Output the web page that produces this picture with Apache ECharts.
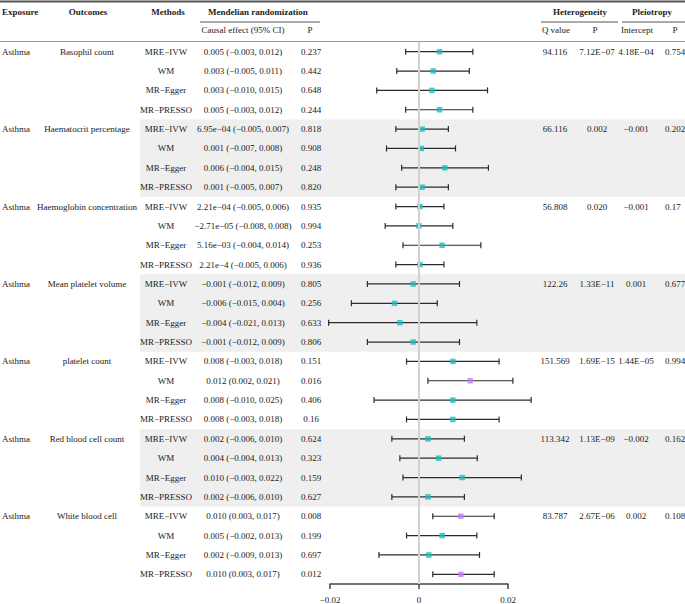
<!DOCTYPE html>
<html>
<head>
<meta charset="utf-8">
<script src="https://cdn.jsdelivr.net/npm/echarts@6/dist/echarts.min.js"></script>
<style>
  html, body {margin: 0; padding: 0; background: #fff;}
  #main {width: 685px; height: 604px;}
</style>
</head>
<body>
<div id="main"></div>
<script>
// 数据
var exposure = 'Asthma';
var outcomes = ['Basophil count', 'Haematocrit percentage', 'Haemoglobin concentration', 'Mean platelet volume',
    'platelet count', 'Red blood cell count', 'White blood cell'];
var methods = ['MRE\u2212IVW', 'WM', 'MR\u2212Egger', 'MR\u2212PRESSO'];

var effectText = [
    '0.005 (\u22120.003, 0.012)', '0.003 (\u22120.005, 0.011)', '0.003 (\u22120.010, 0.015)', '0.005 (\u22120.003, 0.012)',
    '6.95e\u221204 (\u22120.005, 0.007)', '0.001 (\u22120.007, 0.008)', '0.006 (\u22120.004, 0.015)', '0.001 (\u22120.005, 0.007)',
    '2.21e\u221204 (\u22120.005, 0.006)', '\u22122.71e\u221205 (\u22120.008, 0.008)', '5.16e\u221203 (\u22120.004, 0.014)', '2.21e\u22124 (\u22120.005, 0.006)',
    '\u22120.001 (\u22120.012, 0.009)', '\u22120.006 (\u22120.015, 0.004)', '\u22120.004 (\u22120.021, 0.013)', '\u22120.001 (\u22120.012, 0.009)',
    '0.008 (\u22120.003, 0.018)', '0.012 (0.002, 0.021)', '0.008 (\u22120.010, 0.025)', '0.008 (\u22120.003, 0.018)',
    '0.002 (\u22120.006, 0.010)', '0.004 (\u22120.004, 0.013)', '0.010 (\u22120.003, 0.022)', '0.002 (\u22120.006, 0.010)',
    '0.010 (0.003, 0.017)', '0.005 (\u22120.002, 0.013)', '0.002 (\u22120.009, 0.013)', '0.010 (0.003, 0.017)'
];
var pText = [
    '0.237', '0.442', '0.648', '0.244',
    '0.818', '0.908', '0.248', '0.820',
    '0.935', '0.994', '0.253', '0.936',
    '0.805', '0.256', '0.633', '0.806',
    '0.151', '0.016', '0.406', '0.16',
    '0.624', '0.323', '0.159', '0.627',
    '0.008', '0.199', '0.697', '0.012'
];
// 森林图的点估计和置信区间
var beta = [
    0.0046, 0.0032, 0.0029, 0.0046,
    0.0007, 0.0005, 0.0058, 0.0007,
    0.0002, -0.00003, 0.0052, 0.0002,
    -0.0013, -0.0055, -0.0043, -0.0013,
    0.0076, 0.0115, 0.0076, 0.0076,
    0.0020, 0.0044, 0.0097, 0.0020,
    0.0094, 0.0052, 0.0022, 0.0094
];
var lower = [
    -0.0030, -0.0050, -0.0095, -0.0030,
    -0.0052, -0.0073, -0.0039, -0.0052,
    -0.0052, -0.0076, -0.0036, -0.0052,
    -0.0116, -0.0152, -0.0203, -0.0116,
    -0.0028, 0.0020, -0.0101, -0.0028,
    -0.0061, -0.0043, -0.0036, -0.0061,
    0.0031, -0.0028, -0.0090, 0.0031
];
var upper = [
    0.0121, 0.0113, 0.0154, 0.0121,
    0.0066, 0.0082, 0.0156, 0.0066,
    0.0056, 0.0076, 0.0139, 0.0056,
    0.0091, 0.0041, 0.0130, 0.0091,
    0.0180, 0.0211, 0.0252, 0.0180,
    0.0102, 0.0131, 0.0230, 0.0102,
    0.0169, 0.0130, 0.0136, 0.0169
];
var hetQ = ['94.116', '66.116', '56.808', '122.26', '151.569', '113.342', '83.787'];
var hetP = ['7.12E\u221207', '0.002', '0.020', '1.33E\u221211', '1.69E\u221215', '1.13E\u221209', '2.67E\u221206'];
var intercept = ['4.18E\u221204', '\u22120.001', '\u22120.001', '0.001', '1.44E\u221205', '\u22120.002', '0.002'];
var pleP = ['0.754', '0.202', '0.17', '0.677', '0.994', '0.162', '0.108'];
var xTicks = [-0.02, 0, 0.02];
var shadedGroups = [1, 3, 5];

var FONT = '9px "Liberation Serif", "Times New Roman", serif';
var BOLD = 'bold 9px "Liberation Serif", "Times New Roman", serif';
var TEAL = '#1fbcbf';
var PURPLE = '#c47cf2';

var rowIdx = [];
for (var i = 0; i < beta.length; i++) rowIdx.push(String(i));

function txt(text, x, y, align, font) {
    return {
        type: 'text',
        style: {
            text: text, x: x, y: y, font: font || FONT, fill: '#222',
            align: align, textAlign: align, verticalAlign: 'middle', textVerticalAlign: 'middle'
        }
    };
}

// 表格文字
function renderTable(params, api) {
    var r = params.dataIndex;
    var y = api.coord([0, r])[1];
    var g = Math.floor(r / 4);
    var kids = [
        txt(methods[r % 4], 166, y, 'center'),
        txt(effectText[r], 243, y, 'center'),
        txt(pText[r], 311, y, 'center')
    ];
    if (r % 4 === 0) {
        kids.push(txt(exposure, 2, y, 'left'));
        kids.push(txt(outcomes[g], 87, y, 'center'));
        kids.push(txt(hetQ[g], 555, y, 'center'));
        kids.push(txt(hetP[g], 597, y, 'center'));
        kids.push(txt(intercept[g], 636, y, 'center'));
        kids.push(txt(pleP[g], 665, y, 'left'));
    }
    return {type: 'group', children: kids};
}

// 灰色背景条
function renderBand(params, api) {
    var g = shadedGroups[params.dataIndex];
    var h = api.size([0, 1])[1];
    var top = api.coord([0, g * 4])[1] - h / 2;
    return {type: 'rect', shape: {x: 140, y: top, width: 545, height: h * 4}, style: {fill: '#efefef'}};
}

// 置信区间线
function renderCI(params, api) {
    var p1 = api.coord([api.value(0), api.value(2)]);
    var p2 = api.coord([api.value(1), api.value(2)]);
    var st = {stroke: '#2b2b2b', lineWidth: 1.2};
    return {
        type: 'group',
        children: [
            {type: 'line', shape: {x1: p1[0], y1: p1[1], x2: p2[0], y2: p2[1]}, style: st},
            {type: 'line', shape: {x1: p1[0], y1: p1[1] - 3, x2: p1[0], y2: p1[1] + 3}, style: st},
            {type: 'line', shape: {x1: p2[0], y1: p2[1] - 3, x2: p2[0], y2: p2[1] + 3}, style: st}
        ]
    };
}

var ciData = [], pointData = [], tableData = [], bandData = [];
for (var k = 0; k < beta.length; k++) {
    ciData.push([lower[k], upper[k], k]);
    pointData.push({value: [beta[k], k], itemStyle: {color: parseFloat(pText[k]) < 0.05 ? PURPLE : TEAL}});
    tableData.push([0, k]);
}
for (var b = 0; b < shadedGroups.length; b++) bandData.push([0, shadedGroups[b] * 4]);

var headLine = {stroke: '#555', lineWidth: 1};
var option = {
    animation: false,
    backgroundColor: '#fff',
    grid: {left: 330, width: 178, top: 42, height: 543},
    xAxis: {
        type: 'value',
        min: xTicks[0],
        max: xTicks[xTicks.length - 1],
        interval: 0.02,
        axisLine: {show: true, lineStyle: {color: '#444', width: 1.5}},
        axisTick: {show: true, length: 5, lineStyle: {color: '#444', width: 1.5}},
        axisLabel: {
            margin: 11,
            fontFamily: '"Liberation Serif", serif',
            fontSize: 9,
            color: '#222',
            formatter: function (v) {
                if (v === 0) return '0';
                return (v < 0 ? '\u2212' : '') + Math.abs(v).toFixed(2);
            }
        },
        splitLine: {show: false}
    },
    yAxis: {
        type: 'category',
        data: rowIdx,
        inverse: true,
        show: false
    },
    graphic: [
        {type: 'line', shape: {x1: 0, y1: 1.5, x2: 685, y2: 1.5}, style: {stroke: '#555', lineWidth: 2}},
        {type: 'line', shape: {x1: 200, y1: 22, x2: 320, y2: 22}, style: headLine},
        {type: 'line', shape: {x1: 541, y1: 22, x2: 618, y2: 22}, style: headLine},
        {type: 'line', shape: {x1: 622, y1: 22, x2: 685, y2: 22}, style: headLine},
        {type: 'line', shape: {x1: 0, y1: 41.5, x2: 685, y2: 41.5}, style: {stroke: '#999', lineWidth: 1}},
        txt('Exposure', 2, 12, 'left', BOLD),
        txt('Outcomes', 88, 12, 'center', BOLD),
        txt('Methods', 168, 12, 'center', BOLD),
        txt('Mendelian randomization', 258, 12, 'center', BOLD),
        txt('Heterogeneity', 580, 12, 'center', BOLD),
        txt('Pleiotropy', 652, 12, 'center', BOLD),
        txt('Causal effect (95% CI)', 243, 30, 'center'),
        txt('P', 310, 30, 'center'),
        txt('Q value', 556, 30, 'center'),
        txt('P', 595, 30, 'center'),
        txt('Intercept', 637, 30, 'center'),
        txt('P', 675, 30, 'center')
    ],
    series: [
        {
            name: 'band',
            type: 'custom',
            z: 1,
            clip: false,
            silent: true,
            renderItem: renderBand,
            data: bandData,
            markLine: {
                silent: true,
                symbol: 'none',
                label: {show: false},
                lineStyle: {color: '#d2d2d2', width: 2, type: 'solid'},
                data: [{xAxis: 0}]
            }
        },
        {
            name: 'table',
            type: 'custom',
            z: 2,
            clip: false,
            silent: true,
            renderItem: renderTable,
            data: tableData
        },
        {
            name: 'ci',
            type: 'custom',
            z: 3,
            clip: false,
            silent: true,
            renderItem: renderCI,
            encode: {x: [0, 1], y: 2},
            data: ciData
        },
        {
            name: 'estimate',
            type: 'scatter',
            z: 4,
            symbol: 'rect',
            symbolSize: 5.5,
            clip: false,
            data: pointData
        }
    ]
};

echarts.init(document.getElementById('main'), null, {renderer: 'svg'}).setOption(option);
</script>
</body>
</html>
